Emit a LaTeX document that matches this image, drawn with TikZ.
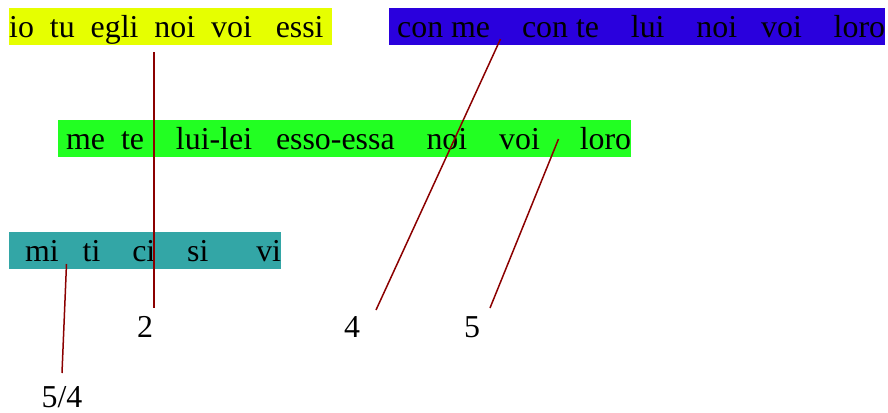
\documentclass[tikz,border=0pt]{standalone}
\usepackage{fontspec}
\setmainfont{Liberation Serif}
\usetikzlibrary{positioning}

\definecolor{soggetto}{RGB}{230,255,0}
\definecolor{tonico}{RGB}{42,0,221}
\definecolor{complemento}{RGB}{34,255,34}
\definecolor{atono}{RGB}{51,166,166}
\definecolor{rigo}{RGB}{139,0,0}

\begin{document}
\begin{tikzpicture}[x=1bp,y=-1bp,
  fascia/.style={anchor=north west,inner sep=0pt,text height=29bp,text depth=8bp,font=\fontsize{32}{36}\selectfont},
  numero/.style={anchor=base,inner sep=0pt,font=\fontsize{32}{36}\selectfont},
  rigo/.style={draw=rigo,line width=1.5bp}]

\useasboundingbox (0,0) rectangle (888,412);

% the four bands of pronouns
\node[fascia,fill=soggetto] (sogg) at (9,8) {io~~tu~~egli~~noi~~voi~~~essi~~};
\node[fascia,fill=tonico] (ton) at (389,8) {~con me~~~~con te~~~~lui~~~~noi~~~voi~~~~loro};
\node[fascia,fill=complemento] (compl) at (58,120) {~me~~te~~~~lui-lei~~~esso-essa~~~~noi~~~~voi~~~~~loro};
\node[fascia,fill=atono] (aton) at (9,232) {~~mi~~~ti~~~~ci~~~~si~~~~~~vi};

% the numbers at the foot
\node[numero] (n2) at (145,337) {2};
\node[numero] (n4) at (352,337) {4};
\node[numero] (n5) at (472,337) {5};
\node[numero] (n54) at (62,407) {5/4};

% ends of the strokes
\coordinate (A) at (154,52);
\coordinate (B) at (154,308);
\coordinate (C) at (500.5,39);
\coordinate (D) at (376,310);
\coordinate (E) at (558.5,139);
\coordinate (F) at (490,308);
\coordinate (G) at (66.5,264);
\coordinate (H) at (62,373);

\path[rigo] (A) -- (B);
\path[rigo] (C) -- (D);
\path[rigo] (E) -- (F);
\path[rigo] (G) -- (H);

\end{tikzpicture}
\end{document}
